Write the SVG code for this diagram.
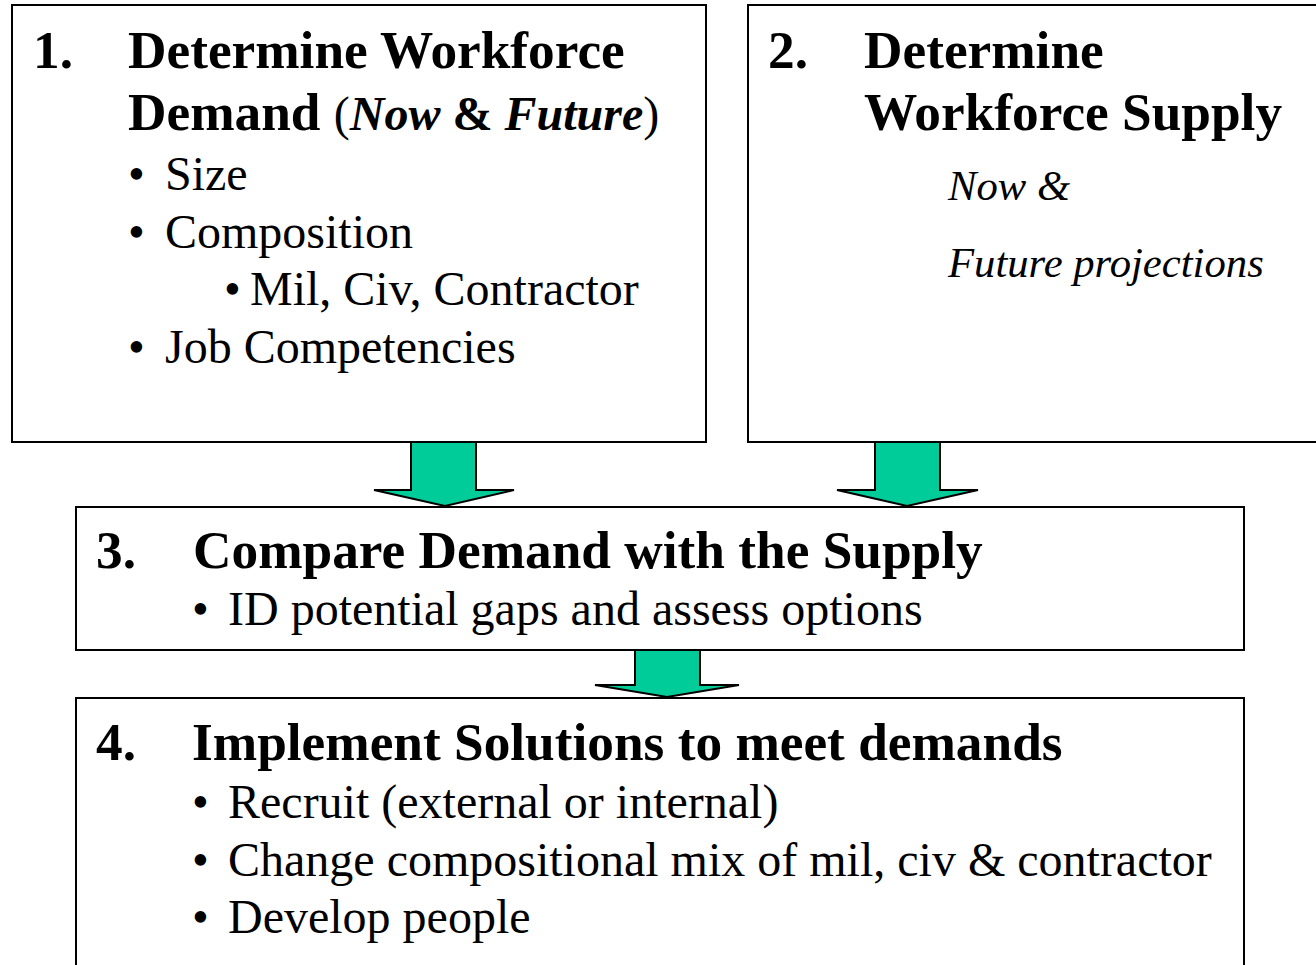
<svg xmlns="http://www.w3.org/2000/svg" width="1316" height="965" viewBox="0 0 1316 965">
<style>
.box{fill:#fff;stroke:#000;stroke-width:2}
.arr{fill:#00cc99;stroke:#000;stroke-width:2;stroke-linejoin:miter}
.t{font-family:"Liberation Serif","Times New Roman",serif;fill:#000}
.h{font-size:53.3px;font-weight:bold}
.b{font-size:48px}
.i{font-size:42.7px;font-style:italic}
</style>
<rect width="1316" height="965" fill="#fff"/>
<g id="node1">
<rect class="box" x="12" y="5" width="694" height="437"/>
<text class="t h" x="33" y="68">1.</text>
<text class="t h" x="128" y="68">Determine Workforce</text>
<text class="t h" x="128" y="130">Demand <tspan font-size="48"><tspan font-weight="normal">(</tspan><tspan font-style="italic">Now</tspan> &amp; <tspan font-style="italic">Future</tspan><tspan font-weight="normal">)</tspan></tspan></text>
<text class="t b" x="128" y="190">•</text><text class="t b" x="165" y="190">Size</text>
<text class="t b" x="128" y="248">•</text><text class="t b" x="165" y="248">Composition</text>
<text class="t b" x="224" y="305">•</text><text class="t b" x="250" y="305">Mil, Civ, Contractor</text>
<text class="t b" x="128" y="363">•</text><text class="t b" x="165" y="363">Job Competencies</text>
</g>
<g id="node2">
<rect class="box" x="748" y="5" width="580" height="437"/>
<text class="t h" x="768" y="68">2.</text>
<text class="t h" x="864" y="68">Determine</text>
<text class="t h" x="864" y="130">Workforce Supply</text>
<text class="t i" x="948" y="200">Now &amp;</text>
<text class="t i" x="948" y="277">Future projections</text>
</g>
<g id="node3">
<rect class="box" x="76" y="507" width="1168" height="143"/>
<text class="t h" x="96" y="568">3.</text>
<text class="t h" x="193" y="568">Compare Demand with the Supply</text>
<text class="t b" x="192" y="625">•</text><text class="t b" x="228" y="625">ID potential gaps and assess options</text>
</g>
<g id="node4">
<rect class="box" x="76" y="698" width="1168" height="290"/>
<text class="t h" x="96" y="760">4.</text>
<text class="t h" x="192" y="760">Implement Solutions to meet demands</text>
<text class="t b" x="192" y="818">•</text><text class="t b" x="228" y="818">Recruit (external or internal)</text>
<text class="t b" x="192" y="876">•</text><text class="t b" x="228" y="876">Change compositional mix of mil, civ &amp; contractor</text>
<text class="t b" x="192" y="933">•</text><text class="t b" x="228" y="933">Develop people</text>
</g>
<g id="connectors">
<polygon class="arr" points="411,442 476,442 476,490 514,490 445,506 374,490 411,490"/>
<polygon class="arr" points="875,442 940,442 940,490 978,490 907,506 837,490 875,490"/>
<polygon class="arr" points="635,650 700,650 700,685 739,685 667,697 595,685 635,685"/>
</g>
</svg>
